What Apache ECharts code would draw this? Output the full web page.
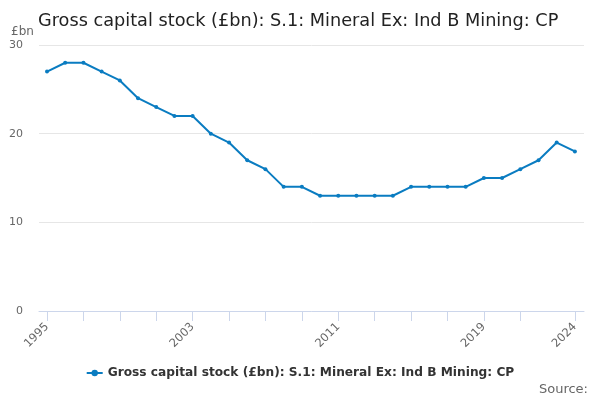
<!DOCTYPE html>
<html>
<head>
<meta charset="utf-8">
<script src="https://cdn.jsdelivr.net/npm/echarts@6/dist/echarts.min.js"></script>
<style>
  html, body { margin: 0; padding: 0; background: #fff; }
  #chart { width: 600px; height: 400px; }
</style>
</head>
<body>
<div id="chart"></div>
<script>
const years = [1995, 1996, 1997, 1998, 1999, 2000, 2001, 2002, 2003, 2004,
  2005, 2006, 2007, 2008, 2009, 2010, 2011, 2012, 2013, 2014,
  2015, 2016, 2017, 2018, 2019, 2020, 2021, 2022, 2023, 2024];
const stock = [27, 28, 28, 27, 26, 24, 23, 22, 22, 20,
  19, 17, 16, 14, 14, 13, 13, 13, 13, 13,
  14, 14, 14, 14, 15, 15, 16, 17, 19, 18];
const tickYears = [1995, 1997, 1999, 2001, 2003, 2005, 2007, 2009, 2011, 2013,
  2015, 2017, 2019, 2021, 2024];
const labelYears = [1995, 2003, 2011, 2019, 2024];
const seriesName = 'Gross capital stock (£bn): S.1: Mineral Ex: Ind B Mining: CP';
const font = 'DejaVu Sans';

const chart = echarts.init(document.getElementById('chart'));
chart.setOption({
  animation: false,
  textStyle: { fontFamily: font },
  title: {
    text: 'Gross capital stock (£bn): S.1: Mineral Ex: Ind B Mining: CP',
    left: 33, top: 7,
    textStyle: { fontFamily: font, fontSize: 17.7, fontWeight: 'normal', color: '#222' }
  },
  graphic: [
    { type: 'text', left: 11, top: 26, style: { text: '£bn', font: '12px DejaVu Sans', fill: '#666' } },
    { type: 'text', right: 12, top: 383, style: { text: 'Source:', font: '13px DejaVu Sans', fill: '#666' } }
  ],
  legend: {
    bottom: 16, left: 'center',
    itemWidth: 16, itemHeight: 8,
    textStyle: { fontFamily: font, fontSize: 12.2, fontWeight: 'bold', color: '#333' },
    data: [seriesName]
  },
  grid: { left: 39, right: 16, top: 45, bottom: 89 },
  xAxis: {
    type: 'value',
    min: 1994.56, max: 2024.5,
    splitLine: { show: false },
    axisLine: { show: true, lineStyle: { color: '#ccd6eb' } },
    axisTick: { show: true, length: 10, customValues: tickYears, lineStyle: { color: '#ccd6eb' } },
    axisLabel: {
      customValues: labelYears, rotate: 45, color: '#666', fontSize: 11.5, margin: 14,
      formatter: v => String(v)
    }
  },
  yAxis: {
    type: 'value',
    min: 0, max: 30, interval: 10,
    axisLine: { show: false },
    axisTick: { show: false },
    splitLine: { lineStyle: { color: '#e6e6e6' } },
    axisLabel: { color: '#666', fontSize: 11, margin: 16 }
  },
  series: [{
    name: seriesName,
    type: 'line',
    data: years.map((y, i) => [y, stock[i]]),
    color: '#0a7cc1',
    lineStyle: { width: 2 },
    symbol: 'circle',
    symbolSize: 4
  }]
});
</script>
</body>
</html>
